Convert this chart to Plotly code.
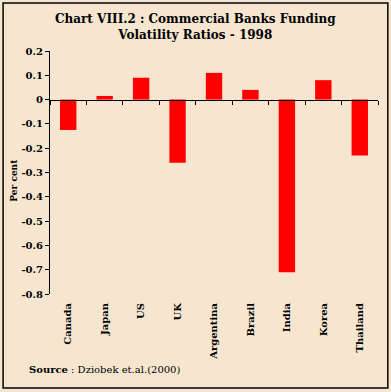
import plotly.graph_objects as go

countries = ["Canada", "Japan", "US", "UK", "Argentina", "Brazil", "India", "Korea", "Thailand"]
ratios = [-0.125, 0.015, 0.09, -0.26, 0.11, 0.04, -0.71, 0.08, -0.23]
y_ticks = [0.2, 0.1, 0, -0.1, -0.2, -0.3, -0.4, -0.5, -0.6, -0.7, -0.8]
y_tick_text = ["0.2", "0.1", "0", "-0.1", "-0.2", "-0.3", "-0.4", "-0.5", "-0.6", "-0.7", "-0.8"]

FONT = "DejaVu Serif"
BG = "#F6E6D0"

fig = go.Figure()
fig.add_trace(go.Bar(x=countries, y=ratios, marker=dict(color="#FF0000", line=dict(width=0)),
                     width=0.45, xaxis="x", yaxis="y"))
# invisible trace for the zero-line axis
fig.add_trace(go.Scatter(x=countries, y=[0]*len(countries), mode="markers",
                         marker=dict(opacity=0), xaxis="x2", yaxis="y",
                         hoverinfo="skip", showlegend=False))

fig.update_layout(
    width=391, height=392,
    margin=dict(l=50, r=13, t=51, b=98),
    paper_bgcolor=BG, plot_bgcolor=BG,
    showlegend=False,
    xaxis=dict(domain=[0, 1], range=[-0.5, 8.5], showline=False, ticks="", showgrid=False,
               tickangle=-90, tickfont=dict(family=FONT, size=10, color="black", weight="bold"),
               ticklabelstandoff=6, anchor="y", zeroline=False, fixedrange=True),
    xaxis2=dict(overlaying="x", matches="x", anchor="free", position=0.8, showline=True,
                linecolor="black", linewidth=1, ticks="outside", tickson="boundaries",
                ticklen=4, tickcolor="black", showticklabels=False, showgrid=False,
                zeroline=False),
    yaxis=dict(domain=[0, 1], range=[-0.8, 0.2], tickvals=y_ticks, ticktext=y_tick_text,
               showline=True, linecolor="black", linewidth=1, ticks="outside", ticklen=4,
               tickcolor="black", showgrid=False, zeroline=False,
               tickfont=dict(family=FONT, size=10, color="black", weight="bold")),
    annotations=[
        dict(text="<b>Chart VIII.2 : Commercial Banks Funding<br>Volatility Ratios - 1998</b>",
             x=(195 - 50) / 328, y=(294 - 27.5) / 243, xref="paper", yref="paper",
             xanchor="center", yanchor="middle", showarrow=False,
             font=dict(family=FONT, size=12, color="black")),
        dict(text="Per cent", x=-0.11, y=0.47, xref="paper", yref="paper", textangle=-90,
             xanchor="center", yanchor="middle",
             showarrow=False, font=dict(family=FONT, size=9, color="black", weight="bold")),
        dict(text="<b>Source</b> : Dziobek et.al.(2000)", x=-0.07, y=-0.31, xref="paper", yref="paper",
             xanchor="left", yanchor="middle", showarrow=False,
             font=dict(family=FONT, size=10, color="black")),
    ],
    shapes=[dict(type="rect", xref="paper", yref="paper", x0=-0.143, x1=1.030, y0=-0.387, y1=1.198,
                 line=dict(color="black", width=1.5))],
)

fig.write_html("out.html", config={"displayModeBar": False},
               post_script="document.body.style.margin='0';")
